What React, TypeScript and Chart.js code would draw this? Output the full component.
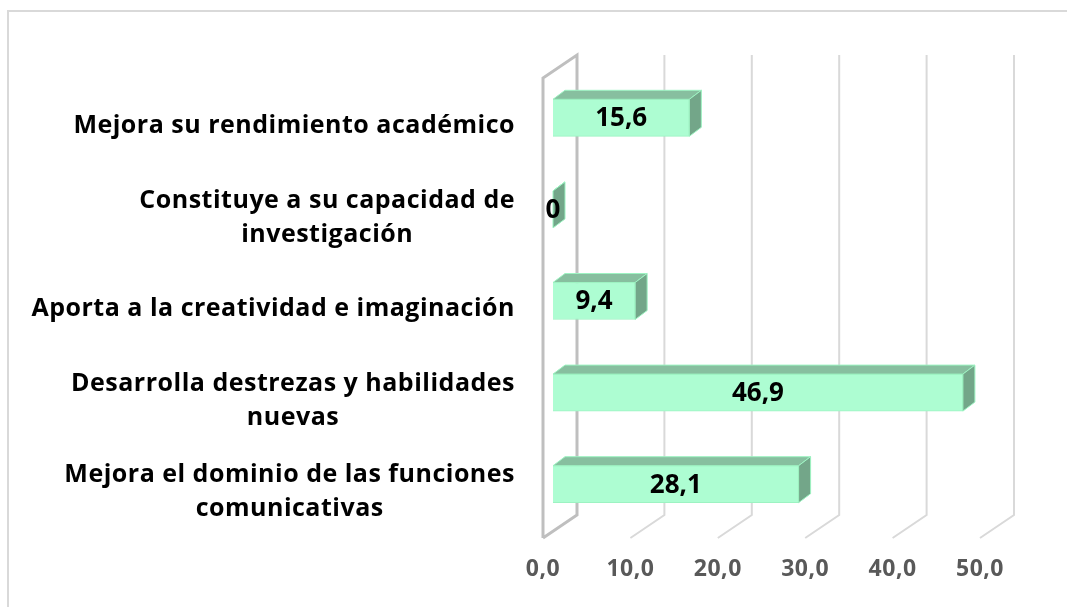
import React, { useEffect, useRef } from "react";
import { Chart, registerables } from "chart.js";

Chart.register(...registerables);

const categories: string[][] = [
  ["Mejora su rendimiento académico"],
  ["Constituye a su capacidad de", "investigación"],
  ["Aporta a la creatividad e imaginación"],
  ["Desarrolla destrezas y habilidades", "nuevas"],
  ["Mejora el dominio de las funciones", "comunicativas"],
];
const values: number[] = [15.6, 0, 9.4, 46.9, 28.1];
const xTickValues: number[] = [0, 10, 20, 30, 40, 50];

const FONT = '"Open Sans", "Noto Sans", sans-serif';
const fmt = (v: number, d: number) => (d === 0 && v === 0 ? "0" : v.toFixed(d).replace(".", ","));

const FRONT = "#adfdd2";
const TOP = "#87bf9f";
const SIDE = "#73a689";
const EDGE = "#9df3c2";

// perspective offsets relative to the bar front plane
const FLOOR_FRONT = { dx: -10, dy: 7 };
const FLOOR_BACK = { dx: 24, dy: -16 };
const BAR_DEPTH = { dx: 12, dy: -9 };

const threeD = {
  id: "threeD",
  beforeDatasetsDraw(chart: any) {
    const ctx = chart.ctx;
    const xs = chart.scales.x;
    const floorFrontY = 538;
    const floorBackY = 515;
    const backTop = 55;
    ctx.save();
    ctx.strokeStyle = "#d9d9d9";
    ctx.lineWidth = 2;
    ctx.strokeRect(8, 11, 1100, 650);
    xTickValues.forEach((v) => {
      const p = xs.getPixelForValue(v);
      const fx = p + FLOOR_FRONT.dx;
      const bx = p + FLOOR_BACK.dx;
      if (v === 0) {
        ctx.strokeStyle = "#bfbfbf";
        ctx.lineWidth = 3;
        ctx.beginPath();
        ctx.moveTo(fx, floorFrontY);
        ctx.lineTo(fx, 78);
        ctx.lineTo(bx, backTop);
        ctx.lineTo(bx, floorBackY);
        ctx.lineTo(fx, floorFrontY);
        ctx.stroke();
      } else {
        ctx.strokeStyle = "#d9d9d9";
        ctx.lineWidth = 2;
        ctx.beginPath();
        ctx.moveTo(bx, backTop);
        ctx.lineTo(bx, floorBackY);
        ctx.lineTo(fx, floorFrontY);
        ctx.stroke();
      }
      ctx.fillStyle = "#595959";
      ctx.font = `bold 23px ${FONT}`;
      (ctx as any).letterSpacing = "0.5px";
      ctx.textAlign = "center";
      ctx.textBaseline = "middle";
      ctx.fillText(fmt(v, 1), fx, 569);
      (ctx as any).letterSpacing = "0px";
    });
    ctx.restore();
  },
  afterDatasetsDraw(chart: any) {
    const ctx = chart.ctx;
    const meta = chart.getDatasetMeta(0);
    ctx.save();
    meta.data.forEach((bar: any, i: number) => {
      const x0 = Math.min(bar.base, bar.x);
      const x1 = Math.max(bar.base, bar.x);
      const yT = bar.y - bar.height / 2;
      const yB = bar.y + bar.height / 2;
      ctx.lineWidth = 1;
      ctx.strokeStyle = EDGE;
      ctx.fillStyle = TOP;
      ctx.beginPath();
      ctx.moveTo(x0, yT);
      ctx.lineTo(x0 + BAR_DEPTH.dx, yT + BAR_DEPTH.dy);
      ctx.lineTo(x1 + BAR_DEPTH.dx, yT + BAR_DEPTH.dy);
      ctx.lineTo(x1, yT);
      ctx.closePath();
      ctx.fill();
      ctx.stroke();
      ctx.fillStyle = SIDE;
      ctx.beginPath();
      ctx.moveTo(x1, yT);
      ctx.lineTo(x1 + BAR_DEPTH.dx, yT + BAR_DEPTH.dy);
      ctx.lineTo(x1 + BAR_DEPTH.dx, yB + BAR_DEPTH.dy);
      ctx.lineTo(x1, yB);
      ctx.closePath();
      ctx.fill();
      ctx.stroke();
      ctx.fillStyle = "#000000";
      ctx.font = `bold 26px ${FONT}`;
      ctx.textAlign = "center";
      ctx.textBaseline = "middle";
      ctx.fillText(fmt(values[i], values[i] === 0 ? 0 : 1), (x0 + x1) / 2, bar.y + 1);
      const lines = categories[i];
      ctx.font = `bold 25px ${FONT}`;
      (ctx as any).letterSpacing = "0.5px";
      ctx.fillStyle = "#000000";
      const maxW = Math.max(...lines.map((l) => ctx.measureText(l).width));
      const cx = 515 - maxW / 2;
      const lh = 34;
      const cy = bar.y + 8;
      lines.forEach((l, k) => {
        ctx.fillText(l, cx, cy + (k - (lines.length - 1) / 2) * lh);
      });
      (ctx as any).letterSpacing = "0px";
    });
    ctx.restore();
  },
};

export default function App() {
  const ref = useRef<HTMLCanvasElement>(null);
  useEffect(() => {
    const chart = new Chart(ref.current!, {
      type: "bar",
      data: {
        labels: categories.map((c) => c.join(" ")),
        datasets: [
          {
            data: values,
            backgroundColor: FRONT,
            borderColor: EDGE,
            borderWidth: 1,
            barThickness: 37,
          },
        ],
      },
      options: {
        indexAxis: "y",
        responsive: false,
        animation: false,
        layout: { padding: { left: 553, right: 77, top: 72, bottom: 77 } },
        scales: {
          x: { type: "linear", min: 0, max: 50, display: false },
          y: { display: false },
        },
        plugins: { legend: { display: false }, tooltip: { enabled: false } },
      },
      plugins: [threeD],
    });
    return () => chart.destroy();
  }, []);
  return (
    <div style={{ position: "fixed", left: 0, top: 0, width: 1067, height: 607, background: "#fff" }}>
      <canvas ref={ref} width={1067} height={607} />
    </div>
  );
}
